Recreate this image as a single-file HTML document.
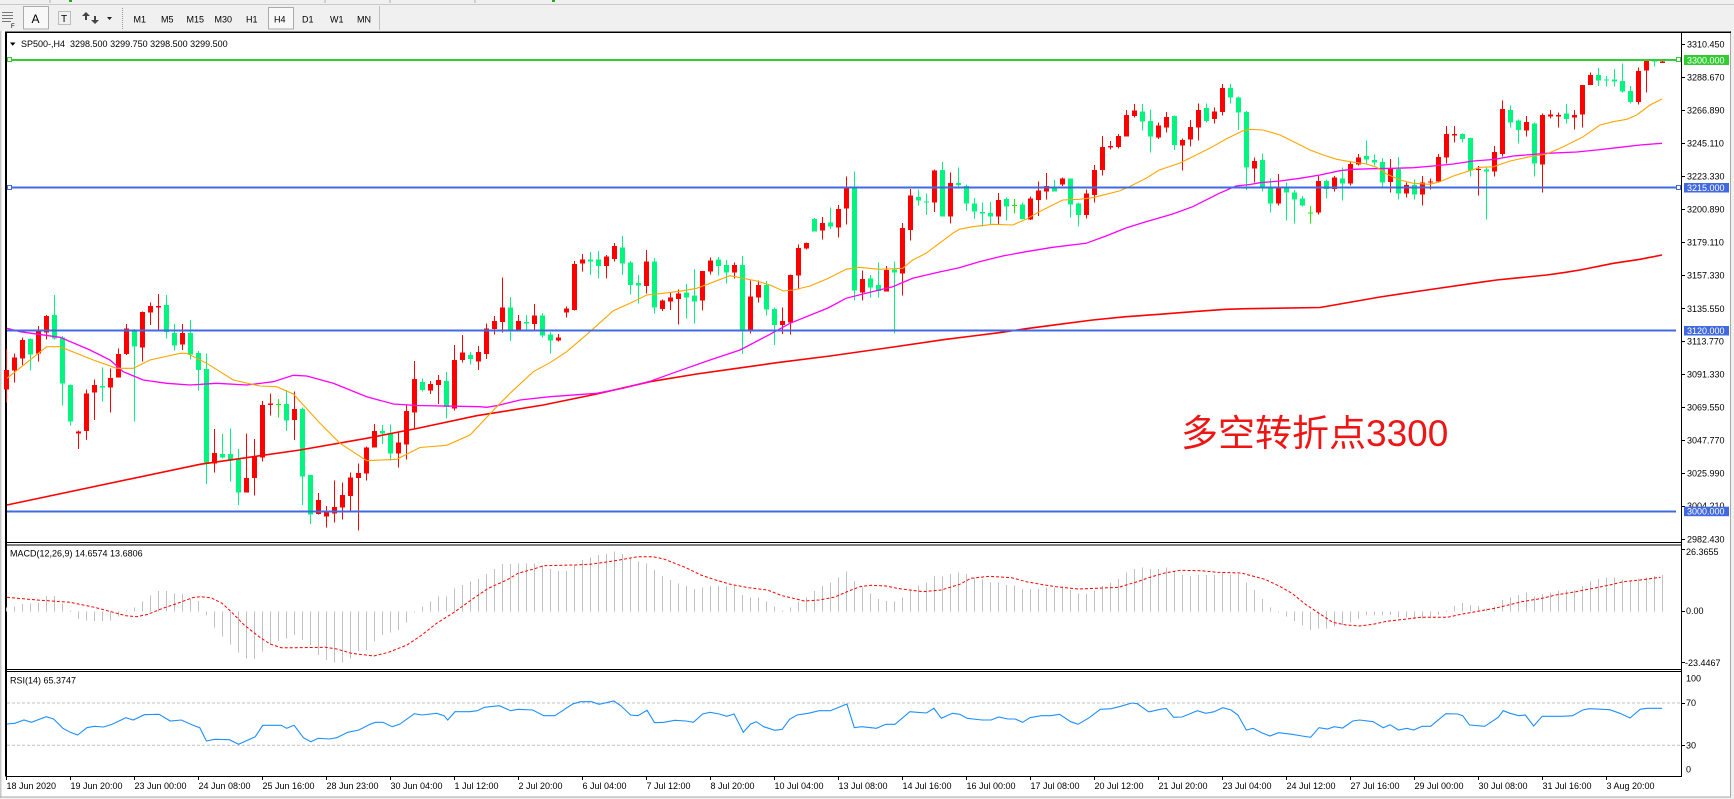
<!DOCTYPE html>
<html><head><meta charset="utf-8"><style>
html,body{margin:0;padding:0;background:#F0F0F0;width:1734px;height:799px;overflow:hidden}
svg{position:absolute;left:0;top:0}
text{font-family:"Liberation Sans",Arial,sans-serif;font-size:9px;fill:#000}
.r{fill:#FF0000}.g{fill:#00F57F}.l{fill:#22EE00}
</style></head><body>
<svg width="1734" height="799" viewBox="0 0 1734 799">
<!-- toolbar -->
<rect x="0" y="0" width="1734" height="31" fill="#F0F0F0"/>
<line x1="0" y1="4.5" x2="1734" y2="4.5" stroke="#C8C8C8"/>
<rect x="69" y="0" width="3" height="2" fill="#22AA22"/><rect x="552" y="0" width="3" height="2" fill="#22AA22"/>
<line x1="50" y1="0" x2="50" y2="3" stroke="#B0B0B0"/><line x1="325" y1="0" x2="325" y2="3" stroke="#B0B0B0"/><line x1="390" y1="0" x2="390" y2="3" stroke="#B0B0B0"/><line x1="475" y1="0" x2="475" y2="3" stroke="#B0B0B0"/>
<g fill="#777"><rect x="2" y="12" width="11" height="1"/><rect x="2" y="15" width="11" height="1"/><rect x="2" y="18" width="11" height="1"/><rect x="2" y="21" width="9" height="1"/></g>
<text x="11" y="28" style="font-size:6px">F</text>
<rect x="23.5" y="6.5" width="25" height="22.5" fill="#F8F8F8" stroke="#ABABAB"/>
<text x="31.5" y="23" style="font-size:12px">A</text>
<rect x="58.5" y="11.5" width="12" height="13" fill="none" stroke="#888" stroke-dasharray="1,1"/>
<text x="61" y="22" style="font-size:10px">T</text>
<path d="M86 12l4 4h-3v4h-2v-4h-3z M95 24l-4-4h3v-4h2v4h3z" fill="#444"/>
<path d="M107 17h5l-2.5 3z" fill="#222"/>
<line x1="122.5" y1="8" x2="122.5" y2="29" stroke="#999" stroke-dasharray="1,1"/>
<rect x="268.5" y="7.5" width="25" height="21.5" fill="#F8F8F8" stroke="#ABABAB"/>
<g style="font-size:9.5px" fill="#222">
<text x="133.5" y="22.5">M1</text><text x="161" y="22.5">M5</text><text x="186.5" y="22.5">M15</text><text x="214.5" y="22.5">M30</text><text x="246" y="22.5">H1</text><text x="274" y="22.5">H4</text><text x="302" y="22.5">D1</text><text x="330" y="22.5">W1</text><text x="357" y="22.5">MN</text></g>
<line x1="379.5" y1="6" x2="379.5" y2="30" stroke="#C0C0C0"/>
<!-- chart window -->
<rect x="0" y="31" width="1.5" height="767" fill="#C8C8C8"/>
<rect x="1.5" y="31" width="1729" height="766" fill="#FFFFFF"/>
<line x1="1730.5" y1="31" x2="1730.5" y2="797" stroke="#A8A8A8"/>
<line x1="0" y1="797" x2="1731" y2="797" stroke="#A8A8A8"/>
<rect x="5" y="31.5" width="1726" height="1.5" fill="#000"/>
<rect x="5" y="31.5" width="2" height="745" fill="#000"/>
<rect x="1681" y="32" width="1" height="745" fill="#000"/>
<rect x="6" y="542" width="1675" height="1" fill="#000"/>
<rect x="6" y="544.5" width="1675" height="1" fill="#000"/>
<rect x="6" y="669" width="1675" height="1" fill="#000"/>
<rect x="6" y="671" width="1675" height="1" fill="#000"/>
<rect x="6" y="776" width="1676" height="1" fill="#000"/>

<!-- title -->
<path d="M10 42.5h5.5l-2.75 3.2z" fill="#000"/>
<text x="21" y="47">SP500-,H4&#160; 3298.500 3299.750 3298.500 3299.500</text>

<!-- MA lines under candles? drawn after -->
<g shape-rendering="crispEdges">
<path class="r" d="M6 349h1V402.7h-1ZM4 370h5V389.3h-5Z"/>
<path class="r" d="M14 353.3h1V382.7h-1ZM12 357.7h5V370.7h-5Z"/>
<path class="r" d="M22 337.3h1V365h-1ZM20 340h5V358.7h-5Z"/>
<path class="g" d="M30 338.3h1V370.7h-1ZM28 339h5V354.3h-5Z"/>
<path class="r" d="M38 326h1V361.7h-1ZM36 331.7h5V353.7h-5Z"/>
<path class="r" d="M46 315h1V339.3h-1ZM44 316h5V332.7h-5Z"/>
<path class="g" d="M54 295h1V339.3h-1ZM52 315h5V338.7h-5Z"/>
<path class="g" d="M62 336h1V405.7h-1ZM60 337.3h5V383.7h-5Z"/>
<path class="g" d="M70 384.3h1V425.7h-1ZM68 385h5V421.7h-5Z"/>
<path class="r" d="M78 430.3h1V449h-1ZM76 431.7h5V433.3h-5Z"/>
<path class="r" d="M86 389.3h1V440h-1ZM84 393.3h5V431h-5Z"/>
<path class="r" d="M94 379.3h1V420h-1ZM92 385h5V392.7h-5Z"/>
<path class="g" d="M102 367.3h1V401.7h-1ZM100 386h5V387.7h-5Z"/>
<path class="r" d="M110 368.7h1V412.7h-1ZM108 378h5V387.7h-5Z"/>
<path class="r" d="M118 348.3h1V377.7h-1ZM116 354h5V377.7h-5Z"/>
<path class="r" d="M126 324h1V355h-1ZM124 328.3h5V354h-5Z"/>
<path class="g" d="M134 329h1V421.7h-1ZM132 329.3h5V346.7h-5Z"/>
<path class="r" d="M142 311.7h1V361.7h-1ZM140 312h5V347.7h-5Z"/>
<path class="r" d="M150 302.7h1V325h-1ZM148 306h5V312.7h-5Z"/>
<path class="r" d="M158 294h1V330h-1ZM156 306h5V307.7h-5Z"/>
<path class="g" d="M166 295h1V338.3h-1ZM164 305h5V332h-5Z"/>
<path class="g" d="M174 324h1V350.7h-1ZM172 333h5V345.7h-5Z"/>
<path class="r" d="M182 324h1V350h-1ZM180 333h5V344.7h-5Z"/>
<path class="g" d="M190 320h1V359.3h-1ZM188 333h5V354.3h-5Z"/>
<path class="g" d="M198 351h1V390.7h-1ZM196 353h5V370h-5Z"/>
<path class="g" d="M206 353.3h1V484h-1ZM204 369h5V463.3h-5Z"/>
<path class="r" d="M214 429h1V472.7h-1ZM212 453h5V463.3h-5Z"/>
<path class="g" d="M222 434h1V458.3h-1ZM220 454h5V457.3h-5Z"/>
<path class="g" d="M230 428.3h1V481.7h-1ZM228 454h5V460h-5Z"/>
<path class="g" d="M238 449h1V505h-1ZM236 459h5V492.7h-5Z"/>
<path class="r" d="M246 433.7h1V492.7h-1ZM244 478h5V492.7h-5Z"/>
<path class="r" d="M254 439h1V495.7h-1ZM252 456h5V478h-5Z"/>
<path class="r" d="M262 401h1V461.7h-1ZM260 405h5V457.3h-5Z"/>
<path class="r" d="M270 393.3h1V415.7h-1ZM268 403.3h5V405h-5Z"/>
<path class="l" d="M278 399h1V417.3h-1ZM276 404h5V405h-5Z"/>
<path class="g" d="M286 390h1V431h-1ZM284 404h5V420.7h-5Z"/>
<path class="r" d="M294 391.3h1V440h-1ZM292 409h5V420h-5Z"/>
<path class="g" d="M302 407.7h1V505h-1ZM300 409h5V476.7h-5Z"/>
<path class="g" d="M310 475h1V524h-1ZM308 475h5V514.3h-5Z"/>
<path class="r" d="M318 493h1V514.3h-1ZM316 500h5V514h-5Z"/>
<path class="r" d="M326 506h1V527.7h-1ZM324 512.3h5V516.7h-5Z"/>
<path class="r" d="M334 480.7h1V522.7h-1ZM332 507h5V513.3h-5Z"/>
<path class="r" d="M342 482.7h1V519.3h-1ZM340 495h5V507.7h-5Z"/>
<path class="r" d="M350 472.7h1V510.7h-1ZM348 477.3h5V496h-5Z"/>
<path class="r" d="M358 463.3h1V530.7h-1ZM356 473h5V478h-5Z"/>
<path class="r" d="M366 446.7h1V480.7h-1ZM364 447.7h5V473.3h-5Z"/>
<path class="r" d="M374 424h1V447.7h-1ZM372 431h5V447.7h-5Z"/>
<path class="g" d="M382 425h1V444h-1ZM380 431h5V433.7h-5Z"/>
<path class="g" d="M390 424.3h1V460.7h-1ZM388 433.7h5V453.7h-5Z"/>
<path class="r" d="M398 432.7h1V467.7h-1ZM396 442.7h5V453.7h-5Z"/>
<path class="r" d="M406 404.3h1V459.3h-1ZM404 411h5V444.7h-5Z"/>
<path class="r" d="M414 361h1V428.3h-1ZM412 379h5V412.7h-5Z"/>
<path class="g" d="M422 378.3h1V391.7h-1ZM420 382h5V390h-5Z"/>
<path class="r" d="M430 381h1V394h-1ZM428 384h5V390.7h-5Z"/>
<path class="r" d="M438 375h1V404h-1ZM436 380h5V385h-5Z"/>
<path class="g" d="M446 372h1V418.7h-1ZM444 381h5V407h-5Z"/>
<path class="r" d="M454 345h1V410.7h-1ZM452 360h5V408.3h-5Z"/>
<path class="r" d="M462 335h1V362.7h-1ZM460 352.7h5V360h-5Z"/>
<path class="g" d="M470 352h1V364.7h-1ZM468 355h5V359h-5Z"/>
<path class="r" d="M478 346h1V370h-1ZM476 352h5V361.7h-5Z"/>
<path class="r" d="M486 323.3h1V359h-1ZM484 328.3h5V354h-5Z"/>
<path class="r" d="M494 316h1V334.3h-1ZM492 321h5V329h-5Z"/>
<path class="r" d="M502 277.7h1V332.7h-1ZM500 307.7h5V322h-5Z"/>
<path class="g" d="M510 297h1V341h-1ZM508 307.7h5V330.7h-5Z"/>
<path class="r" d="M518 315h1V330.3h-1ZM516 321h5V330h-5Z"/>
<path class="g" d="M526 315h1V330.3h-1ZM524 322h5V323.3h-5Z"/>
<path class="r" d="M534 304h1V330h-1ZM532 315.7h5V324h-5Z"/>
<path class="g" d="M542 313h1V337.3h-1ZM540 315.7h5V335.7h-5Z"/>
<path class="g" d="M550 332h1V353.3h-1ZM548 334.7h5V340.7h-5Z"/>
<path class="r" d="M558 334h1V341.7h-1ZM556 337.7h5V340.7h-5Z"/>
<path class="r" d="M566 306.7h1V317.7h-1ZM564 308.7h5V312.7h-5Z"/>
<path class="r" d="M574 261h1V310.7h-1ZM572 264h5V310h-5Z"/>
<path class="r" d="M582 254h1V271.7h-1ZM580 259.7h5V263.7h-5Z"/>
<path class="g" d="M590 252h1V275h-1ZM588 259.7h5V261.3h-5Z"/>
<path class="g" d="M598 251h1V278.7h-1ZM596 259.7h5V266h-5Z"/>
<path class="r" d="M606 255h1V278.7h-1ZM604 256.7h5V266h-5Z"/>
<path class="r" d="M614 243h1V261.7h-1ZM612 246h5V259h-5Z"/>
<path class="g" d="M622 236h1V275h-1ZM620 247.7h5V263.3h-5Z"/>
<path class="g" d="M630 261h1V294.7h-1ZM628 262.7h5V285h-5Z"/>
<path class="g" d="M638 275h1V303.7h-1ZM636 283h5V285.7h-5Z"/>
<path class="r" d="M646 250h1V293.3h-1ZM644 261.7h5V286h-5Z"/>
<path class="g" d="M654 258h1V313.7h-1ZM652 261.7h5V307.7h-5Z"/>
<path class="r" d="M662 299.3h1V311h-1ZM660 300.7h5V309h-5Z"/>
<path class="r" d="M670 292.7h1V310h-1ZM668 297.7h5V301.7h-5Z"/>
<path class="r" d="M678 289.3h1V324.7h-1ZM676 293.7h5V299h-5Z"/>
<path class="g" d="M686 284h1V318.3h-1ZM684 292.7h5V297.7h-5Z"/>
<path class="g" d="M694 269h1V323.7h-1ZM692 295.7h5V301.7h-5Z"/>
<path class="r" d="M702 271h1V310.7h-1ZM700 271h5V300.7h-5Z"/>
<path class="r" d="M710 257.3h1V274.3h-1ZM708 260.7h5V271.7h-5Z"/>
<path class="g" d="M718 257h1V275.7h-1ZM716 259.7h5V266h-5Z"/>
<path class="g" d="M726 260h1V283.7h-1ZM724 265h5V272.7h-5Z"/>
<path class="r" d="M734 262.3h1V278.3h-1ZM732 265h5V272.3h-5Z"/>
<path class="g" d="M742 256h1V354h-1ZM740 265h5V330.7h-5Z"/>
<path class="r" d="M750 280.7h1V333.3h-1ZM748 296.7h5V330.7h-5Z"/>
<path class="r" d="M758 280.3h1V302.7h-1ZM756 285h5V297.7h-5Z"/>
<path class="g" d="M766 281h1V315.7h-1ZM764 285h5V309.7h-5Z"/>
<path class="g" d="M774 307.7h1V345h-1ZM772 309h5V325h-5Z"/>
<path class="r" d="M782 307.7h1V334h-1ZM780 321h5V325h-5Z"/>
<path class="r" d="M790 274.3h1V334.7h-1ZM788 275h5V322.3h-5Z"/>
<path class="r" d="M798 244.3h1V289.3h-1ZM796 248h5V275.7h-5Z"/>
<path class="r" d="M806 242.7h1V249.3h-1ZM804 243h5V248.3h-5Z"/>
<path class="g" d="M814 218h1V231.7h-1ZM812 219h5V231.7h-5Z"/>
<path class="r" d="M822 217h1V239.7h-1ZM820 223h5V230.7h-5Z"/>
<path class="g" d="M830 207.7h1V229h-1ZM828 222.7h5V226.7h-5Z"/>
<path class="r" d="M838 205h1V237.7h-1ZM836 209h5V227.7h-5Z"/>
<path class="r" d="M846 176.7h1V224.7h-1ZM844 188h5V208.7h-5Z"/>
<path class="g" d="M854 171.7h1V300.7h-1ZM852 188h5V290.7h-5Z"/>
<path class="r" d="M862 270.7h1V300.7h-1ZM860 279h5V292.7h-5Z"/>
<path class="g" d="M870 275h1V297.3h-1ZM868 278.3h5V287.3h-5Z"/>
<path class="g" d="M878 262.7h1V297.3h-1ZM876 285h5V291h-5Z"/>
<path class="r" d="M886 266h1V291.7h-1ZM884 270h5V291.7h-5Z"/>
<path class="g" d="M894 261.7h1V333.3h-1ZM892 269.3h5V272.7h-5Z"/>
<path class="r" d="M902 223h1V295.7h-1ZM900 228h5V273.3h-5Z"/>
<path class="r" d="M910 189h1V240.7h-1ZM908 195.7h5V230h-5Z"/>
<path class="g" d="M918 189.3h1V205.7h-1ZM916 197h5V200.7h-5Z"/>
<path class="g" d="M926 193.3h1V215h-1ZM924 201.3h5V202.7h-5Z"/>
<path class="r" d="M934 169.3h1V212h-1ZM932 170.7h5V202.7h-5Z"/>
<path class="g" d="M942 162h1V216.7h-1ZM940 170h5V216.7h-5Z"/>
<path class="r" d="M950 172.7h1V223.7h-1ZM948 183h5V216.7h-5Z"/>
<path class="g" d="M958 167.7h1V187h-1ZM956 183h5V185h-5Z"/>
<path class="g" d="M966 184.3h1V211h-1ZM964 186h5V203.7h-5Z"/>
<path class="g" d="M974 198h1V219h-1ZM972 203.3h5V211.7h-5Z"/>
<path class="g" d="M982 202.3h1V226.7h-1ZM980 212h5V213.7h-5Z"/>
<path class="g" d="M990 202h1V225h-1ZM988 213h5V216.7h-5Z"/>
<path class="r" d="M998 193h1V224.3h-1ZM996 200h5V216.7h-5Z"/>
<path class="g" d="M1006 197.7h1V220.7h-1ZM1004 199h5V206.7h-5Z"/>
<path class="l" d="M1014 199h1V213.3h-1ZM1012 205h5V206h-5Z"/>
<path class="g" d="M1022 202.3h1V219.3h-1ZM1020 204.7h5V219h-5Z"/>
<path class="r" d="M1030 196.7h1V220h-1ZM1028 198.7h5V219.3h-5Z"/>
<path class="r" d="M1038 181.7h1V216h-1ZM1036 190.7h5V200h-5Z"/>
<path class="r" d="M1046 173h1V199.7h-1ZM1044 186h5V191.3h-5Z"/>
<path class="g" d="M1054 180h1V191.7h-1ZM1052 188h5V191.7h-5Z"/>
<path class="r" d="M1062 177.7h1V186h-1ZM1060 178.7h5V184.7h-5Z"/>
<path class="g" d="M1070 178.7h1V217.7h-1ZM1068 178.7h5V204.7h-5Z"/>
<path class="g" d="M1078 202.7h1V226.7h-1ZM1076 203.7h5V215h-5Z"/>
<path class="r" d="M1086 189.3h1V218.3h-1ZM1084 193.7h5V215h-5Z"/>
<path class="r" d="M1094 165h1V202.7h-1ZM1092 170h5V195h-5Z"/>
<path class="r" d="M1102 136h1V175.7h-1ZM1100 147h5V170h-5Z"/>
<path class="r" d="M1110 141h1V149.7h-1ZM1108 146h5V147.7h-5Z"/>
<path class="r" d="M1118 134h1V148.7h-1ZM1116 136h5V147h-5Z"/>
<path class="r" d="M1126 110h1V136.7h-1ZM1124 115h5V136.7h-5Z"/>
<path class="r" d="M1134 104h1V117.7h-1ZM1132 110.7h5V116h-5Z"/>
<path class="g" d="M1142 104h1V130.7h-1ZM1140 111.7h5V121.7h-5Z"/>
<path class="g" d="M1150 109.3h1V152.7h-1ZM1148 121h5V136.7h-5Z"/>
<path class="r" d="M1158 122.3h1V139h-1ZM1156 125.7h5V137.7h-5Z"/>
<path class="r" d="M1166 112h1V132.7h-1ZM1164 117h5V127.7h-5Z"/>
<path class="g" d="M1174 115.7h1V150h-1ZM1172 116h5V145h-5Z"/>
<path class="r" d="M1182 138.7h1V170.7h-1ZM1180 140h5V145.7h-5Z"/>
<path class="r" d="M1190 120h1V146.7h-1ZM1188 127h5V139.7h-5Z"/>
<path class="r" d="M1198 103.7h1V140.7h-1ZM1196 110h5V127.7h-5Z"/>
<path class="g" d="M1206 103.7h1V122.3h-1ZM1204 108h5V121h-5Z"/>
<path class="r" d="M1214 107.7h1V123.3h-1ZM1212 111.7h5V119h-5Z"/>
<path class="r" d="M1222 84h1V115.7h-1ZM1220 88h5V112h-5Z"/>
<path class="g" d="M1230 84h1V103.3h-1ZM1228 88h5V97.7h-5Z"/>
<path class="g" d="M1238 96.7h1V130h-1ZM1236 97.3h5V112.7h-5Z"/>
<path class="g" d="M1246 111h1V190h-1ZM1244 112h5V167.3h-5Z"/>
<path class="r" d="M1254 157.3h1V182.7h-1ZM1252 161h5V168.7h-5Z"/>
<path class="g" d="M1262 153.3h1V191.7h-1ZM1260 160h5V186.7h-5Z"/>
<path class="g" d="M1270 178.3h1V212.7h-1ZM1268 187.3h5V203.7h-5Z"/>
<path class="r" d="M1278 174h1V205.7h-1ZM1276 188.3h5V203.7h-5Z"/>
<path class="g" d="M1286 182.7h1V220.7h-1ZM1284 187.3h5V192.7h-5Z"/>
<path class="g" d="M1294 190h1V223.3h-1ZM1292 192.3h5V199.7h-5Z"/>
<path class="g" d="M1302 196h1V206.7h-1ZM1300 198.3h5V205.7h-5Z"/>
<path class="l" d="M1310 206h1V223.3h-1ZM1308 212.3h5V213.3h-5Z"/>
<path class="r" d="M1318 176h1V214.3h-1ZM1316 181h5V212.7h-5Z"/>
<path class="g" d="M1326 179.3h1V198.3h-1ZM1324 181h5V189h-5Z"/>
<path class="r" d="M1334 176h1V191.7h-1ZM1332 177.3h5V189h-5Z"/>
<path class="g" d="M1342 167.3h1V200.7h-1ZM1340 178.3h5V183.7h-5Z"/>
<path class="r" d="M1350 161.7h1V185.7h-1ZM1348 164h5V183.7h-5Z"/>
<path class="r" d="M1358 154h1V165.3h-1ZM1356 157.3h5V164.3h-5Z"/>
<path class="g" d="M1366 140.7h1V163.7h-1ZM1364 156h5V159.7h-5Z"/>
<path class="g" d="M1374 154.3h1V165.3h-1ZM1372 160h5V162.7h-5Z"/>
<path class="g" d="M1382 158h1V186.7h-1ZM1380 162h5V182.3h-5Z"/>
<path class="r" d="M1390 159h1V192.7h-1ZM1388 168.7h5V182h-5Z"/>
<path class="g" d="M1398 157h1V199.3h-1ZM1396 169h5V193.7h-5Z"/>
<path class="r" d="M1406 182.7h1V197.3h-1ZM1404 185h5V193.7h-5Z"/>
<path class="g" d="M1414 179.3h1V199.3h-1ZM1412 185h5V194.3h-5Z"/>
<path class="r" d="M1422 176h1V205.7h-1ZM1420 182.3h5V194.3h-5Z"/>
<path class="r" d="M1430 178.3h1V189.3h-1ZM1428 181.3h5V182.5h-5Z"/>
<path class="r" d="M1438 154h1V182.7h-1ZM1436 157h5V181.7h-5Z"/>
<path class="r" d="M1446 126h1V163.3h-1ZM1444 134h5V157.3h-5Z"/>
<path class="r" d="M1454 126h1V142.7h-1ZM1452 134h5V135.7h-5Z"/>
<path class="g" d="M1462 133.3h1V142.7h-1ZM1460 134h5V139h-5Z"/>
<path class="g" d="M1470 137.3h1V176.7h-1ZM1468 138h5V170.7h-5Z"/>
<path class="r" d="M1478 166h1V195.7h-1ZM1476 169h5V170h-5Z"/>
<path class="g" d="M1486 167.3h1V219.3h-1ZM1484 169.3h5V171.7h-5Z"/>
<path class="r" d="M1494 146h1V176.7h-1ZM1492 152h5V171.7h-5Z"/>
<path class="r" d="M1502 100.7h1V156.7h-1ZM1500 109h5V154h-5Z"/>
<path class="g" d="M1510 105.7h1V127.7h-1ZM1508 110h5V122.7h-5Z"/>
<path class="g" d="M1518 119.3h1V143.3h-1ZM1516 120.7h5V130h-5Z"/>
<path class="r" d="M1526 116h1V136.7h-1ZM1524 122h5V130.7h-5Z"/>
<path class="g" d="M1534 122.7h1V176.7h-1ZM1532 123.3h5V163.3h-5Z"/>
<path class="r" d="M1542 113.3h1V192.7h-1ZM1540 115h5V164.7h-5Z"/>
<path class="r" d="M1550 110h1V118.3h-1ZM1548 114.3h5V116.7h-5Z"/>
<path class="r" d="M1558 112.7h1V127.7h-1ZM1556 115h5V116.7h-5Z"/>
<path class="g" d="M1566 104h1V123.3h-1ZM1564 113.3h5V119h-5Z"/>
<path class="r" d="M1574 110h1V129.3h-1ZM1572 115h5V117.3h-5Z"/>
<path class="r" d="M1582 85h1V127.3h-1ZM1580 85h5V114.7h-5Z"/>
<path class="r" d="M1590 72.3h1V85h-1ZM1588 75h5V85h-5Z"/>
<path class="g" d="M1598 68h1V86h-1ZM1596 75h5V80.7h-5Z"/>
<path class="g" d="M1606 76h1V86.7h-1ZM1604 79.3h5V80.5h-5Z"/>
<path class="g" d="M1614 69h1V86.7h-1ZM1612 79.3h5V81.7h-5Z"/>
<path class="g" d="M1622 63.3h1V92.7h-1ZM1620 81h5V91.7h-5Z"/>
<path class="g" d="M1630 86h1V103.3h-1ZM1628 91h5V102h-5Z"/>
<path class="r" d="M1638 67.3h1V104.3h-1ZM1636 71h5V102h-5Z"/>
<path class="r" d="M1646 60h1V92.7h-1ZM1644 60.7h5V70.7h-5Z"/>
<path class="g" d="M1654 59.3h1V66.7h-1ZM1652 60.7h5V61.7h-5Z"/>
<path class="r" d="M1662 60.7h1V63h-1ZM1660 61.3h5V63h-5Z"/>
</g>

<!-- moving averages -->
<polyline fill="none" stroke="#FF0000" stroke-width="1.6" points="7,505 200,464.3 300,450 366.7,438.3 416.7,428.5 476.7,415.7 543.3,405 596.7,394 650,381.7 696.7,374 730,369.3 776.7,362.7 830,356 890,347.5 946,339.3 972.7,336 999.3,332.7 1026,328.7 1059.3,324.3 1092.7,320 1126,316.7 1159.3,314.3 1192.7,311.7 1226,309.3 1246,308.7 1320,307.5 1340,304 1380,297 1420,291 1480,282.3 1496.7,280 1513.3,278.3 1546.7,275 1563.3,272.7 1580,270 1613.3,263.3 1640,259.3 1662,255"/>
<polyline fill="none" stroke="#FF00FF" stroke-width="1.3" points="7,328.3 20,331.7 60,337.3 90,350 110,360 123.3,371.7 143.3,380 166.7,383.3 190,385 216.7,383.3 246.7,385 273.3,381.7 293.3,375.3 306.7,376 333.3,383.3 366.7,396.7 393.3,404 416.7,405.5 480,406.7 486.7,407.3 496.7,405.7 520,400 550,396.7 596.7,393.3 623.3,388.3 650,381.3 676.7,371.7 710,360 740,350 770,334.3 790,323.3 828,308 846,298.3 866,293.3 892.7,286.7 912.7,278.3 936,272.7 959.3,267.7 979.3,261.7 1002.7,256 1026,251.7 1052.7,247.3 1086,243.3 1106,236 1126,228 1146,221.7 1172.7,214 1192.7,206.7 1219.3,193.3 1236,186 1250,184.5 1260,182.7 1280,181 1300,178.3 1320,175 1340,170.7 1353.3,169.3 1373.3,168.7 1393.3,168.3 1413.3,167.7 1433.3,166 1453.3,164 1473.3,161 1493.3,159.5 1513.3,156 1546.7,153.3 1576.7,152 1596.7,150 1620,147.3 1640,145 1662,143.3"/>
<polyline fill="none" stroke="#FFA500" stroke-width="1.1" points="7,378.3 46.7,346.7 60,346.7 93.3,360 116.7,368.3 133.3,368.3 150,360 180,353.3 186.7,353.3 206.7,363.3 233.3,380 260,386 276.7,386.7 293.3,394 320,423.3 340,443.3 366.7,460.7 396.7,459.3 420,447.5 446.7,445.3 470,435 496.7,406.7 510,393.3 533.3,371.7 550,362.7 566.7,351.7 590,331.7 613.3,310.7 630,303.3 646.7,295 663.3,293.3 683.3,290.7 696.7,288.3 710,283.3 730,275.7 743.3,278.3 756.7,281 770,285 783.3,291 793.3,290 810,286 828,278.5 846,269.3 859.3,267.3 879.3,269.3 902.7,268.3 912.7,260 926,253.3 939.3,243.3 952.7,233.3 959.3,229.3 972.7,226.7 992.7,224.3 1012.7,225 1026,219.3 1039.3,211.7 1052.7,205 1062.7,200 1079.3,199.3 1092.7,197.7 1106,194.3 1119.3,191 1129.3,186.7 1146,178.3 1159.3,170 1179.3,163.3 1192.7,156.7 1212.7,146.7 1226,139 1243,130.8 1250,129.3 1263.3,130 1280,135 1296.7,143.3 1310,150 1323.3,155 1336.7,159.3 1350,161.7 1366.7,164 1376.7,167.3 1386.7,174 1400,180 1413.3,183.3 1430,184.3 1440,181.7 1453.3,176 1466.7,171.7 1480,167.3 1493.3,166.8 1510,161 1530,156.7 1546.7,154 1563.3,146.7 1583.3,136.7 1600,125 1613.3,121.7 1626.7,119.3 1636.7,115 1650,105 1662,99"/>

<!-- horizontal levels -->
<g shape-rendering="crispEdges">
<rect x="7" y="59" width="1669" height="2" fill="#32CD32"/>
<rect x="7" y="186.7" width="1669" height="2" fill="#4169E1"/>
<rect x="7" y="329.5" width="1669" height="2" fill="#4169E1"/>
<rect x="7" y="510.5" width="1669" height="2" fill="#4169E1"/>
<rect x="1676.5" y="57.5" width="4" height="4" fill="#fff" stroke="#32CD32"/>
<rect x="1676.5" y="185.5" width="4" height="4" fill="#fff" stroke="#4169E1"/>
<rect x="7.5" y="57.5" width="4" height="4" fill="#fff" stroke="#32CD32"/>
<rect x="7.5" y="185.5" width="4" height="4" fill="#fff" stroke="#4169E1"/>
</g>

<!-- annotation -->
<text x="1181" y="446" style="font-family:'Liberation Sans','Noto Sans CJK SC',sans-serif;font-size:37px;fill:#EE1515">多空转折点3300</text>

<!-- MACD -->
<path fill="none" stroke="#C0C0C0" stroke-width="1" shape-rendering="crispEdges" d="M6.5 611.5V607.3M14.5 611.5V606.7M22.5 611.5V604M30.5 611.5V603.3M38.5 611.5V602.7M46.5 611.5V596M54.5 611.5V596M62.5 611.5V603.3M70.5 611.5V610.5M78.5 611.5V619M86.5 611.5V620.7M94.5 611.5V621.7M102.5 611.5V621.7M110.5 611.5V620.7M118.5 611.5V616.7M126.5 611.5V610.5M134.5 611.5V607.7M142.5 611.5V601.7M150.5 611.5V595.7M158.5 611.5V591M166.5 611.5V591M174.5 611.5V593.3M182.5 611.5V594M190.5 611.5V598.3M198.5 611.5V601M206.5 611.5V615.7M214.5 611.5V627.7M222.5 611.5V636.7M230.5 611.5V644.3M238.5 611.5V652.7M246.5 611.5V658.3M254.5 611.5V659M262.5 611.5V651.7M270.5 611.5V645M278.5 611.5V641M286.5 611.5V638.3M294.5 611.5V635M302.5 611.5V640M310.5 611.5V645M318.5 611.5V655M326.5 611.5V660M334.5 611.5V662.7M342.5 611.5V662.3M350.5 611.5V658.3M358.5 611.5V651M366.5 611.5V650M374.5 611.5V641.7M382.5 611.5V635M390.5 611.5V632.3M398.5 611.5V630M406.5 611.5V622.3M414.5 611.5V612.7M422.5 611.5V606.7M430.5 611.5V601.7M438.5 611.5V596.7M446.5 611.5V596.7M454.5 611.5V588.3M462.5 611.5V585M470.5 611.5V581.7M478.5 611.5V578.3M486.5 611.5V574M494.5 611.5V569M502.5 611.5V564M510.5 611.5V564M518.5 611.5V563.3M526.5 611.5V563.3M534.5 611.5V563.3M542.5 611.5V565M550.5 611.5V569M558.5 611.5V571M566.5 611.5V571M574.5 611.5V565M582.5 611.5V560M590.5 611.5V557.3M598.5 611.5V555M606.5 611.5V554M614.5 611.5V551.7M622.5 611.5V554M630.5 611.5V557.3M638.5 611.5V561.7M646.5 611.5V563.3M654.5 611.5V570M662.5 611.5V576M670.5 611.5V580M678.5 611.5V583.3M686.5 611.5V586M694.5 611.5V589M702.5 611.5V587.7M710.5 611.5V586M718.5 611.5V586M726.5 611.5V586M734.5 611.5V585M742.5 611.5V595M750.5 611.5V597.7M758.5 611.5V597.7M766.5 611.5V601.7M774.5 611.5V606.7M782.5 611.5V610.5M790.5 611.5V607.7M798.5 611.5V601.7M806.5 611.5V597.3M814.5 611.5V591M822.5 611.5V586M830.5 611.5V582.7M838.5 611.5V577.7M846.5 611.5V571.7M854.5 611.5V581M862.5 611.5V587.7M870.5 611.5V593.3M878.5 611.5V599M886.5 611.5V601M894.5 611.5V601.7M902.5 611.5V597.7M910.5 611.5V590M918.5 611.5V585.7M926.5 611.5V582.7M934.5 611.5V576M942.5 611.5V576.7M950.5 611.5V574M958.5 611.5V572.7M966.5 611.5V574M974.5 611.5V577.7M982.5 611.5V579.3M990.5 611.5V582.7M998.5 611.5V582.7M1006.5 611.5V585M1014.5 611.5V585.7M1022.5 611.5V589M1030.5 611.5V589M1038.5 611.5V589M1046.5 611.5V587.7M1054.5 611.5V587.7M1062.5 611.5V586M1070.5 611.5V590M1078.5 611.5V593.3M1086.5 611.5V594M1094.5 611.5V590.7M1102.5 611.5V586M1110.5 611.5V582.7M1118.5 611.5V579M1126.5 611.5V572.7M1134.5 611.5V569M1142.5 611.5V567.7M1150.5 611.5V569M1158.5 611.5V569M1166.5 611.5V567.7M1174.5 611.5V571M1182.5 611.5V575M1190.5 611.5V576M1198.5 611.5V575M1206.5 611.5V575M1214.5 611.5V575M1222.5 611.5V572.7M1230.5 611.5V574.3M1238.5 611.5V574M1246.5 611.5V582.7M1254.5 611.5V590M1262.5 611.5V599M1270.5 611.5V607.7M1278.5 611.5V612.7M1286.5 611.5V616.7M1294.5 611.5V621.7M1302.5 611.5V625.7M1310.5 611.5V630M1318.5 611.5V628.3M1326.5 611.5V628.3M1334.5 611.5V626.7M1342.5 611.5V625M1350.5 611.5V622.3M1358.5 611.5V619M1366.5 611.5V615.7M1374.5 611.5V615.7M1382.5 611.5V615.7M1390.5 611.5V615M1398.5 611.5V617.7M1406.5 611.5V617.7M1414.5 611.5V619M1422.5 611.5V618.3M1430.5 611.5V616.7M1438.5 611.5V615M1446.5 611.5V610.5M1454.5 611.5V606M1462.5 611.5V602.7M1470.5 611.5V605M1478.5 611.5V606M1486.5 611.5V608.3M1494.5 611.5V606.7M1502.5 611.5V600M1510.5 611.5V597.3M1518.5 611.5V595M1526.5 611.5V592.7M1534.5 611.5V596.7M1542.5 611.5V594M1550.5 611.5V592.3M1558.5 611.5V590.7M1566.5 611.5V590M1574.5 611.5V590M1582.5 611.5V586M1590.5 611.5V581M1598.5 611.5V579M1606.5 611.5V577.7M1614.5 611.5V577.3M1622.5 611.5V579.3M1630.5 611.5V580.3M1638.5 611.5V578.3M1646.5 611.5V577.3M1654.5 611.5V576M1662.5 611.5V575"/>
<polyline fill="none" stroke="#FF0000" stroke-width="1" stroke-dasharray="3,2" points="7,597.3 37,600 70.3,602.3 96.2,607.7 111,611.7 125.8,615.7 136.9,616.7 148,614.3 162.8,608.3 177.6,603.3 192.4,597.7 199.8,596.7 210.9,597.7 222,603.3 229.4,610 244.2,625 259,636.7 270.1,644 281.2,647.7 296,647.7 325.6,647.3 336.7,649 351.5,653.3 373.7,656 388.5,652.3 407,645 421.8,635 436.6,623.3 455,611.7 473.5,598.3 488.3,588.3 506.8,580 518,573.3 532.7,569.3 543.8,565.7 575,565 589.8,564.3 604.6,562.3 619.4,560 637.9,556.7 652.7,556.7 663.8,559 674.9,563.3 686,567.7 700.8,575 715.6,580 730.4,584.3 748.9,587.7 767.4,590 782.2,595.7 793.3,598.3 804.4,601 819.2,600 834,597.3 848.8,591 859.9,586.7 871,585.3 885.8,586 896.9,588.3 922.8,591.7 941.3,590 959.8,584.3 970.9,578.3 989.4,576.3 1011.5,577.7 1026.4,581.7 1044.8,585 1055.9,586.7 1078.1,589 1096.6,588.3 1118.8,587.3 1137.3,581.7 1150,577.3 1163.5,573.3 1180.4,570.3 1200.7,570.7 1217.6,572.3 1241.3,573 1251.4,575.7 1264.9,579.3 1278.5,585.7 1292,593.3 1305.5,604.3 1319,613.3 1332.6,622.3 1346.1,625 1359.6,626 1373.1,624.3 1386.6,621.3 1406.9,619 1420.5,617.3 1447.5,617.3 1461,614.3 1481.3,610.7 1494.8,608.3 1508.4,605 1521.9,601.7 1542.2,598.3 1555.7,595 1576,591.7 1596.2,587.7 1609.8,585 1623.3,581.7 1640.2,580 1660.5,577.3"/>
<text x="10" y="556.5">MACD(12,26,9) 14.6574 13.6806</text>

<!-- RSI -->
<line x1="7" y1="703" x2="1681" y2="703" stroke="#C0C0C0" stroke-dasharray="3,2"/>
<line x1="7" y1="745.3" x2="1681" y2="745.3" stroke="#C0C0C0" stroke-dasharray="3,2"/>
<polyline fill="none" stroke="#1E90FF" stroke-width="1.1" points="7,724 14.8,723.3 24,720 31.4,722.3 46.2,716.7 53.6,719 62.9,728.3 70.3,732.3 77.7,735 86.9,727.7 94.3,726.3 103.6,727 112.8,724 125.8,717.7 133.2,720 144.3,714.7 159.1,714.3 170.2,721 181.3,720 192.4,725 199.8,727.7 206.4,741 214.6,739.3 229.4,739.7 238.6,744.3 255.3,736.7 262.7,725.3 281.2,725.3 286.7,728.3 294.1,725.3 303.4,737.7 310.8,741.7 318.2,738.3 329.3,739 336.7,737.7 347.8,732.3 358.9,730 370,724.3 375.5,722.3 382.9,722.3 392.2,726.7 399.6,724.3 414.4,713.7 421.8,715 436.6,713.3 444,715.7 447.7,720 455,711.7 469.8,711.7 477.2,710.7 484.6,707.3 499.4,705.7 510.5,710.7 518,709.3 532.7,710 543.8,715.7 554.9,715.7 566,708.3 573.4,703.7 575,703.3 580.5,701.7 591.6,701.7 599,704.3 606.4,702.7 613.8,701 621.2,706 630.5,715 637.9,715.7 647.1,710.3 654.5,722.7 663.8,722.3 674.9,720.3 686,721 693.4,722.3 702.6,714 710,712.3 719.3,714 726.7,716.3 734.1,714 743.3,732.3 750.7,724 756.3,721.7 763.7,726.7 774.8,730.3 782.2,729.3 789.6,719.3 797,715 808.1,713.3 819.2,710.7 830.3,710.7 837.7,707.7 846.9,704 854.3,727.7 861.7,726.7 876.5,728.3 885.8,724.3 895,724.3 909.8,711.7 917.2,712.3 926.5,713 933.9,708.3 941.3,718.3 952.4,713.3 959.8,714.3 967.2,718.3 982,720 991.2,720 998.6,717 1007.8,719 1015.2,719 1022.6,722.3 1030,717.7 1041.2,715.7 1050.4,715.7 1059.6,714.3 1070.7,721.7 1078.1,724.3 1089.2,717.7 1100.3,709.3 1111.4,708.7 1120.7,706.3 1131.8,703 1137.3,703.7 1148.4,711.7 1150,711.7 1158.5,709.7 1166.2,708.3 1173.7,717.3 1182.1,717 1197.3,710.7 1205.8,713.3 1214.2,711.7 1222.7,707.7 1231.1,710 1237.9,715 1246.3,730 1253.1,728.3 1261.6,732.7 1270,736 1278.5,732.7 1292,734.3 1302.1,736 1310.6,737.3 1319,727.7 1327.5,729 1334.2,726.7 1342.7,728 1352.8,721 1359.6,720 1373.1,721.7 1383.3,727.7 1390,724.7 1398.5,730 1406.9,728.3 1413.7,730 1422.1,726.3 1430.6,726.3 1445.8,713.7 1457.6,714 1462.7,715.7 1469.5,725 1484.7,726.3 1498.2,717.3 1503.3,710.7 1510,713.3 1518.5,715.7 1525.3,715 1533.7,726 1542.2,716.3 1562.4,716.3 1572.6,715.7 1582.7,710 1589.5,708.7 1609.8,709.7 1619.9,713.3 1630,718 1640.2,709.3 1647,708.3 1662.2,708.3"/>
<text x="10" y="683.5">RSI(14) 65.3747</text>

<!-- price axis ticks -->
<path stroke="#000" stroke-width="1" d="M1682 44.5h3M1682 77.5h3M1682 110.5h3M1682 143.5h3M1682 176.5h3M1682 209.5h3M1682 242.5h3M1682 275.5h3M1682 308.5h3M1682 341.5h3M1682 374.5h3M1682 407.5h3M1682 440.5h3M1682 473.5h3M1682 506.5h3M1682 539.5h3M1682 549.5h3M1682 611.5h3M1682 662.5h3M1682 703.5h3M1682 745.5h3"/>
<g>
<text x="1687" y="47.5">3310.450</text>
<text x="1687" y="80.5">3288.670</text>
<text x="1687" y="113.5">3266.890</text>
<text x="1687" y="146.5">3245.110</text>
<text x="1687" y="179.5">3223.330</text>
<text x="1687" y="212.5">3200.890</text>
<text x="1687" y="245.5">3179.110</text>
<text x="1687" y="278.5">3157.330</text>
<text x="1687" y="311.9">3135.550</text>
<text x="1687" y="344.5">3113.770</text>
<text x="1687" y="377.5">3091.330</text>
<text x="1687" y="410.5">3069.550</text>
<text x="1687" y="443.5">3047.770</text>
<text x="1687" y="476.5">3025.990</text>
<text x="1687" y="509.2">3004.210</text>
<text x="1687" y="542.5">2982.430</text>
<text x="1686" y="554.9">26.3655</text>
<text x="1686" y="614.2">0.00</text>
<text x="1685" y="665.9">-23.4467</text>
<text x="1686" y="681.5">100</text>
<text x="1686" y="706.2">70</text>
<text x="1686" y="748.5">30</text>
<text x="1686" y="772.5">0</text>
</g>
<rect x="1684" y="55" width="45" height="10" fill="#32CD32"/>
<text x="1687" y="63.3" style="fill:#fff">3300.000</text>
<rect x="1684" y="183" width="45" height="9.5" fill="#4169E1"/>
<text x="1687" y="191" style="fill:#fff">3215.000</text>
<rect x="1684" y="326" width="45" height="9.5" fill="#4169E1"/>
<text x="1687" y="333.9" style="fill:#fff">3120.000</text>
<rect x="1684" y="506.7" width="45" height="9.5" fill="#4169E1"/>
<text x="1687" y="514.6" style="fill:#fff">3000.000</text>

<!-- time axis -->
<path stroke="#000" stroke-width="1" d="M6.5 776v4M70.5 776v4M134.5 776v4M198.5 776v4M262.5 776v4M326.5 776v4M390.5 776v4M454.5 776v4M518.5 776v4M582.5 776v4M646.5 776v4M710.5 776v4M774.5 776v4M838.5 776v4M902.5 776v4M966.5 776v4M1030.5 776v4M1094.5 776v4M1158.5 776v4M1222.5 776v4M1286.5 776v4M1350.5 776v4M1414.5 776v4M1478.5 776v4M1542.5 776v4M1606.5 776v4"/>
<g>
<text x="6.5" y="789">18 Jun 2020</text>
<text x="70.5" y="789">19 Jun 20:00</text>
<text x="134.5" y="789">23 Jun 00:00</text>
<text x="198.5" y="789">24 Jun 08:00</text>
<text x="262.5" y="789">25 Jun 16:00</text>
<text x="326.5" y="789">28 Jun 23:00</text>
<text x="390.5" y="789">30 Jun 04:00</text>
<text x="454.5" y="789">1 Jul 12:00</text>
<text x="518.5" y="789">2 Jul 20:00</text>
<text x="582.5" y="789">6 Jul 04:00</text>
<text x="646.5" y="789">7 Jul 12:00</text>
<text x="710.5" y="789">8 Jul 20:00</text>
<text x="774.5" y="789">10 Jul 04:00</text>
<text x="838.5" y="789">13 Jul 08:00</text>
<text x="902.5" y="789">14 Jul 16:00</text>
<text x="966.5" y="789">16 Jul 00:00</text>
<text x="1030.5" y="789">17 Jul 08:00</text>
<text x="1094.5" y="789">20 Jul 12:00</text>
<text x="1158.5" y="789">21 Jul 20:00</text>
<text x="1222.5" y="789">23 Jul 04:00</text>
<text x="1286.5" y="789">24 Jul 12:00</text>
<text x="1350.5" y="789">27 Jul 16:00</text>
<text x="1414.5" y="789">29 Jul 00:00</text>
<text x="1478.5" y="789">30 Jul 08:00</text>
<text x="1542.5" y="789">31 Jul 16:00</text>
<text x="1606.5" y="789">3 Aug 20:00</text>
</g>
</svg>
</body></html>
